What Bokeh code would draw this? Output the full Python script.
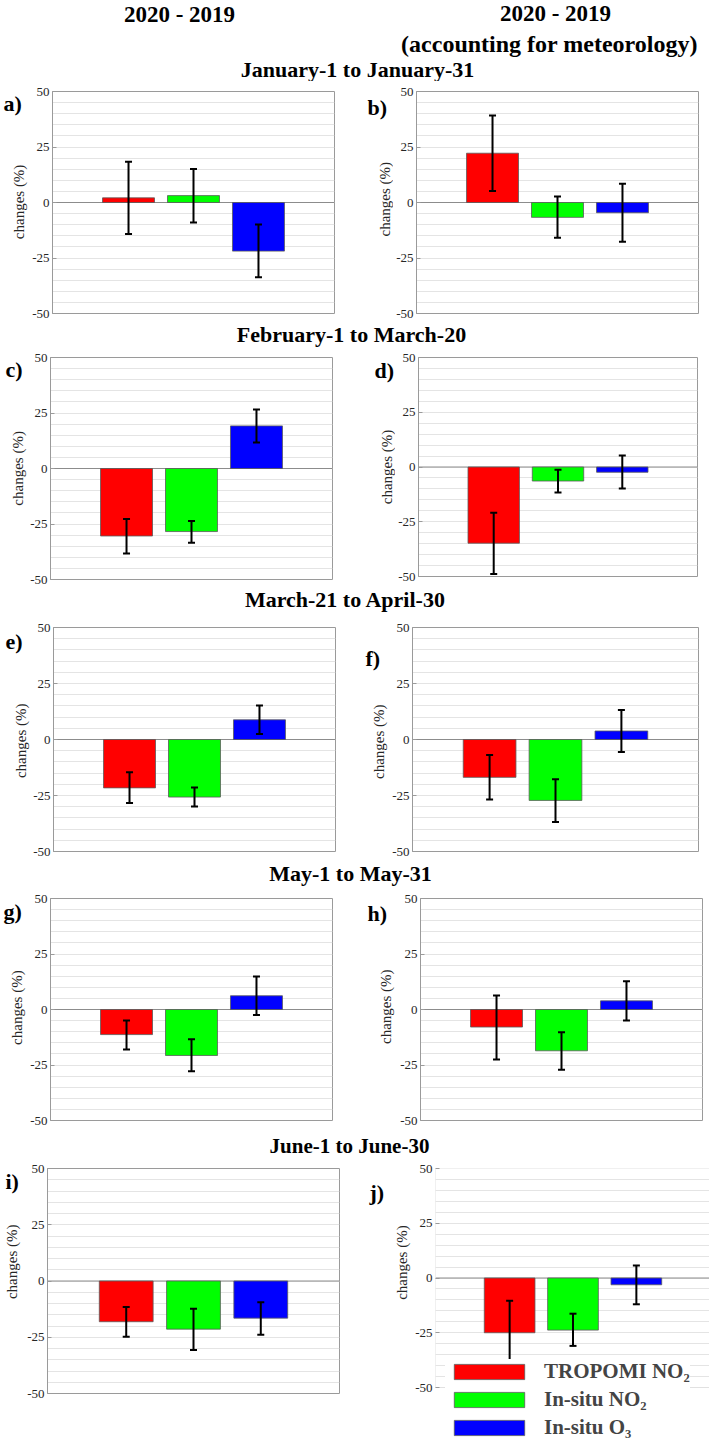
import math
from bokeh.plotting import figure
from bokeh.models import (Range1d, FixedTicker, Label, Span, ColumnDataSource,
                          Whisker, TeeHead, Legend, LegendItem, BoxAnnotation)
from bokeh.layouts import column, row
from bokeh.embed import file_html
from bokeh.resources import INLINE

# ---------------- data ----------------
categories = ["TROPOMI NO\u2082", "In-situ NO\u2082", "In-situ O\u2083"]
bar_colors = ["#ff0000", "#00ff00", "#0000ff"]
periods = ["January-1 to January-31", "February-1 to March-20",
           "March-21 to April-30", "May-1 to May-31", "June-1 to June-30"]
column_titles = ["2020 - 2019", "2020 - 2019", "(accounting for meteorology)"]
panel_letters = ["a)", "b)", "c)", "d)", "e)", "f)", "g)", "h)", "i)", "j)"]
y_label = "changes (%)"
y_ticks = [-50, -25, 0, 25, 50]

jan_raw = [2.1, 3.1, -21.9]
jan_raw_hi = [18.3, 15.1, -9.9]
jan_raw_lo = [-14.2, -9.0, -33.7]
jan_met = [22.2, -6.7, -4.6]
jan_met_hi = [39.2, 2.7, 8.5]
jan_met_lo = [5.2, -15.9, -17.7]

feb_raw = [-30.4, -28.4, 19.2]
feb_raw_hi = [-22.8, -23.7, 26.6]
feb_raw_lo = [-38.3, -33.4, 11.7]
feb_met = [-34.8, -6.4, -2.4]
feb_met_hi = [-20.9, -1.2, 5.2]
feb_met_lo = [-48.9, -11.7, -9.8]

mar_raw = [-21.6, -25.7, 8.8]
mar_raw_hi = [-14.6, -21.4, 15.2]
mar_raw_lo = [-28.3, -29.9, 2.5]
mar_met = [-16.9, -27.2, 3.8]
mar_met_hi = [-6.9, -17.8, 13.2]
mar_met_lo = [-26.8, -36.8, -5.6]

may_raw = [-11.3, -20.7, 6.2]
may_raw_hi = [-4.9, -13.4, 14.9]
may_raw_lo = [-18.0, -27.8, -2.5]
may_met = [-7.9, -18.6, 3.9]
may_met_hi = [6.3, -10.2, 12.7]
may_met_lo = [-22.5, -27.1, -4.9]

jun_raw = [-18.1, -21.4, -16.5]
jun_raw_hi = [-11.6, -12.3, -9.4]
jun_raw_lo = [-24.8, -30.7, -23.9]
jun_met = [-25.0, -23.8, -3.1]
jun_met_hi = [-10.4, -16.3, 5.7]
jun_met_lo = [-39.7, -31.0, -12.0]

# ---------------- style / layout ----------------
FONT = "Liberation Serif"
TOTAL_W = 708
COL_X = [0, 355]
COL_W = [355, TOTAL_W - 355]
X0, X1 = -0.17, 4.17
AX_BORDER = 21          # room for tick labels left of each frame
GRID = "#e4e4e4"
FRAME = "#9a9a9a"


def blank(width, height, x0, y_top):
    p = figure(width=width, height=height, x_range=Range1d(x0, x0 + width),
               y_range=Range1d(y_top + height, y_top), output_backend="svg",
               toolbar_location=None, x_axis_type=None, y_axis_type=None,
               min_border=0)
    p.outline_line_color = None
    return p


def header(y_top, height, texts):
    p = blank(TOTAL_W, height, 0, y_top)
    for txt, x, y, size in texts:
        p.add_layout(Label(x=x, y=y, text=txt, text_font=FONT,
                           text_font_style="bold", text_font_size=f"{size}px",
                           text_align="center", text_baseline="middle",
                           text_color="black"))
    return p


def side(col, frame_left, y_top, height, letter, letter_xy, label_xy):
    """Narrow strip left of a panel: panel letter and rotated y-axis title."""
    w = frame_left - AX_BORDER - COL_X[col]
    p = blank(w, height, COL_X[col], y_top)
    p.add_layout(Label(x=letter_xy[0], y=letter_xy[1], text=letter,
                       text_font=FONT, text_font_style="bold",
                       text_font_size="22px", text_align="left",
                       text_baseline="middle", text_color="black"))
    p.add_layout(Label(x=label_xy[0], y=label_xy[1], text=y_label,
                       angle=math.pi / 2, text_font=FONT,
                       text_font_size="15px", text_align="center",
                       text_baseline="middle", text_color="#262626"))
    return p, w


def panel(col, side_w, vals, hi, lo, frame_w, top, frame_h, bottom,
          extra_px=0, legend=False):
    src = ColumnDataSource(dict(x=[1, 2, 3], top=vals, upper=hi, lower=lo,
                                color=bar_colors, name=categories))
    canvas_w = COL_W[col] - side_w
    y_lo = -50 - extra_px / frame_h * 100
    p = figure(frame_width=frame_w, frame_height=frame_h + extra_px,
               min_border_left=AX_BORDER,
               min_border_right=canvas_w - AX_BORDER - frame_w,
               min_border_top=top, min_border_bottom=bottom,
               x_range=Range1d(X0, X1), y_range=Range1d(y_lo, 50),
               output_backend="svg", toolbar_location=None)
    p.xaxis.visible = False
    p.xgrid.visible = False
    p.ygrid.ticker = FixedTicker(ticks=[v for v in range(-45, 50, 5)])
    p.ygrid.grid_line_color = GRID
    p.ygrid.grid_line_width = 1
    ax = p.yaxis[0]
    ax.ticker = FixedTicker(ticks=y_ticks)
    ax.major_label_overrides = {t: str(t) for t in y_ticks}
    ax.minor_tick_line_color = None
    ax.major_tick_in = 4
    ax.major_tick_out = 0
    ax.major_tick_line_color = FRAME
    ax.major_label_text_font = FONT
    ax.major_label_text_font_size = "13px"
    ax.major_label_text_color = "#262626"
    ax.major_label_standoff = 3
    if extra_px:
        p.outline_line_color = None
        ax.axis_line_color = None
        p.add_layout(BoxAnnotation(bottom=-50, top=50, fill_alpha=0,
                                   line_color=FRAME, line_width=1,
                                   level="underlay"))
    else:
        p.outline_line_color = FRAME
        p.outline_line_width = 1
        ax.axis_line_color = FRAME

    p.add_layout(Span(location=0, dimension="width", line_color="#8c8c8c",
                      line_width=1, level="underlay"))
    bars = p.vbar(x="x", top="top", bottom=0, width=0.8, source=src,
                  fill_color="color", line_color="#5a5a5a", line_width=0.8)
    p.add_layout(Whisker(base="x", upper="upper", lower="lower", source=src,
                         line_color="black", line_width=2, level="annotation",
                         upper_head=TeeHead(size=7, line_width=2, line_color="black"),
                         lower_head=TeeHead(size=7, line_width=2, line_color="black")))
    if legend:
        items = [LegendItem(label=categories[i], renderers=[bars], index=i)
                 for i in range(3)]
        lg = Legend(items=items, location=(10, 0), glyph_width=88,
                    glyph_height=19, label_standoff=11, label_text_font=FONT,
                    label_text_font_style="bold", label_text_font_size="21px",
                    label_height=15, spacing=3, padding=1, margin=0,
                    border_line_color=None, background_fill_color="white",
                    background_fill_alpha=1.0, level="overlay")
        p.add_layout(lg)
    return p


def panel_row(y_top, height, left_spec, right_spec):
    figs = []
    for col, spec in enumerate([left_spec, right_spec]):
        (vals, hi, lo, letter, frame_left, frame_w, frame_top, frame_h,
         letter_xy, label_x, extra) = spec
        label_xy = (label_x, frame_top + frame_h / 2)
        s, w = side(col, frame_left, y_top, height, letter, letter_xy, label_xy)
        bottom = height - (frame_top - y_top) - frame_h - extra
        pnl = panel(col, w, vals, hi, lo, frame_w, frame_top - y_top, frame_h,
                    bottom, extra_px=extra, legend=extra > 0)
        figs += [s, pnl]
    return row(*figs)


h0 = header(0, 81, [(column_titles[0], 179, 14, 23), (column_titles[1], 555, 13, 23),
                    (column_titles[2], 549, 43, 24), (periods[0], 357, 68.5, 22)])
r1 = panel_row(81, 240,
               (jan_raw, jan_raw_hi, jan_raw_lo, panel_letters[0], 50, 282, 91, 222, (3, 94), 18, 0),
               (jan_met, jan_met_hi, jan_met_lo, panel_letters[1], 412, 282, 88, 222, (365, 99), 382, 0))
h1 = header(321, 26, [(periods[1], 351, 334, 22)])
r2 = panel_row(347, 239,
               (feb_raw, feb_raw_hi, feb_raw_lo, panel_letters[2], 48, 282, 357, 222, (5, 360), 17, 0),
               (feb_met, feb_met_hi, feb_met_lo, panel_letters[3], 414, 279, 357, 219, (372, 361), 384, 0))
h2 = header(586, 26, [(periods[2], 345, 598.5, 22)])
r3 = panel_row(612, 248,
               (mar_raw, mar_raw_hi, mar_raw_lo, panel_letters[4], 51, 282, 626, 224, (5, 628), 20, 0),
               (mar_met, mar_met_hi, mar_met_lo, panel_letters[5], 408, 286, 627, 224, (363, 646), 376, 0))
h3 = header(860, 28, [(periods[3], 350, 873, 22)])
r4 = panel_row(888, 245,
               (may_raw, may_raw_hi, may_raw_lo, panel_letters[6], 48, 282, 898, 222, (3, 902), 16, 0),
               (may_met, may_met_hi, may_met_lo, panel_letters[7], 416, 282, 897, 222, (365, 905), 383, 0))
h4 = header(1133, 24, [(periods[4], 349, 1145, 21)])
r5 = panel_row(1157, 283,
               (jun_raw, jun_raw_hi, jun_raw_lo, panel_letters[8], 45, 292, 1164, 225, (5, 1174), 11, 0),
               (jun_met, jun_met_hi, jun_met_lo, panel_letters[9], 431, 275, 1168, 219, (367, 1188), 399, 53))

layout = column(h0, r1, h1, r2, h2, r3, h3, r4, h4, r5)

open("out.html", "w").write(file_html(layout, INLINE))
